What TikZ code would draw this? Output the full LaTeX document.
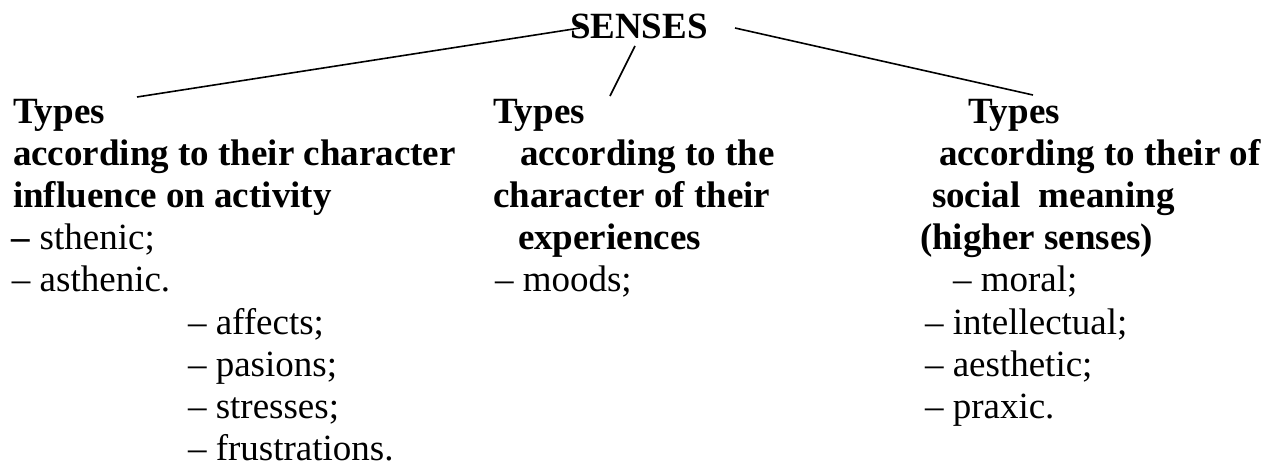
\documentclass[tikz,border=0pt]{standalone}
\usepackage{fontspec}
\setmainfont{Liberation Serif}
\begin{document}
\begin{tikzpicture}[x=1pt,y=-1pt,
  txt/.style={anchor=base west,inner sep=0pt,outer sep=0pt,
    font=\fontsize{37}{42}\selectfont},
  head/.style={txt,font=\fontsize{37}{42}\selectfont\bfseries},
  link/.style={line width=1.6pt}]
\useasboundingbox (0,0) rectangle (1282,472);

% baselines of the text rows
\def\bA{123}\def\bB{165.2}\def\bC{207.4}\def\bD{249.6}\def\bE{291.8}
\def\bF{334}\def\bG{376.2}\def\bH{418.4}\def\bI{460.6}

% title
\node[head] (senses) at (570,38) {SENSES};

% first column
\node[head] (t1) at (13,\bA) {Types};
\node[head] (t1a) at (13,\bB) {according to their character};
\node[head] (t1b) at (13,\bC) {influence on activity};
\node[txt] (sthenic) at (12,\bD) {{\bfseries –} sthenic;};
\node[txt] (asthenic) at (12,\bE) {– asthenic.};
\node[txt] (affects) at (188,\bF) {– affects;};
\node[txt] (pasions) at (188,\bG) {– pasions;};
\node[txt] (stresses) at (188,\bH) {– stresses;};
\node[txt] (frustr) at (188,\bI) {– frustrations.};

% second column
\node[head] (t2) at (493,\bA) {Types};
\node[head] (t2a) at (520,\bB) {according to the};
\node[head] (t2b) at (493,\bC) {character of their};
\node[head] (t2c) at (518,\bD) {experiences};
\node[txt] (moods) at (495,\bE) {– moods;};

% third column
\node[head] (t3) at (968,\bA) {Types};
\node[head] (t3a) at (939,\bB) {according to their of};
\node[head] (t3b) at (932,\bC) {social\ \ meaning};
\node[head] (t3c) at (920,\bD) {(higher senses)};
\node[txt] (moral) at (953,\bE) {– moral;};
\node[txt] (intel) at (925,\bF) {– intellectual;};
\node[txt] (aesth) at (925,\bG) {– aesthetic;};
\node[txt] (praxic) at (925,\bH) {– praxic.};

% connector end points
\coordinate (sL) at (580,28);
\coordinate (sM) at (635,46);
\coordinate (sR) at (735,28);
\coordinate (c1) at (137,97);
\coordinate (c2) at (610,96);
\coordinate (c3) at (1033,95);

\draw[link] (sL) -- (c1);
\draw[link] (sM) -- (c2);
\draw[link] (sR) -- (c3);
\end{tikzpicture}
\end{document}
